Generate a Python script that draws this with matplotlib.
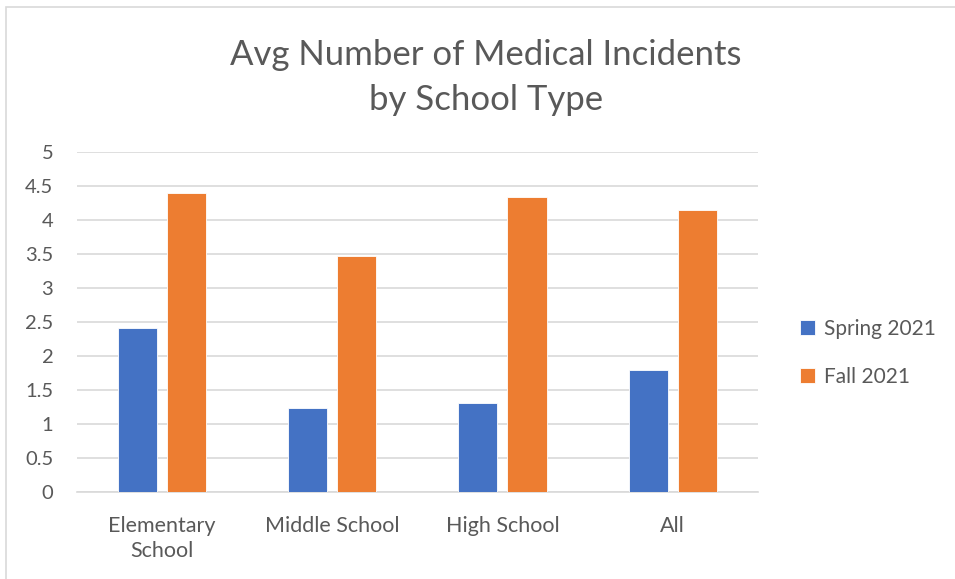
import numpy as np
import matplotlib.pyplot as plt
from matplotlib.patches import Rectangle

# Average medical incidents per school type
categories = ['Elementary\nSchool', 'Middle School', 'High School', 'All']
spring_2021 = [2.42, 1.24, 1.31, 1.80]
fall_2021 = [4.40, 3.47, 4.34, 4.15]
series_names = ['Spring 2021', 'Fall 2021']

blue = '#4472C4'
orange = '#ED7D31'
text_gray = '#595959'

plt.rcParams['font.family'] = ['Lato', 'DejaVu Sans']

fig = plt.figure(figsize=(9.55, 5.79), dpi=100)
ax = fig.add_axes([0.0806, 0.150, 0.7128, 0.5875])

x = np.arange(len(categories))
width = 0.23
offset = 0.144
ax.bar(x - offset, spring_2021, width, color=blue, label=series_names[0],
       edgecolor='white', linewidth=0.6, zorder=3)
ax.bar(x + offset, fall_2021, width, color=orange, label=series_names[1],
       edgecolor='white', linewidth=0.6, zorder=3)

ax.set_xlim(-0.5, len(categories) - 0.5)
ax.set_ylim(0, 5)
ax.set_yticks(np.arange(0, 5.01, 0.5))
ax.set_yticklabels(['0', '0.5', '1', '1.5', '2', '2.5', '3', '3.5', '4', '4.5', '5'])
ax.set_xticks(x)
ax.set_xticklabels(categories, linespacing=1.35)
ax.tick_params(axis='both', length=0, colors=text_gray)
ax.tick_params(axis='y', pad=17, labelsize=14.5)
ax.tick_params(axis='x', pad=17, labelsize=15.5)
ax.grid(axis='y', color='#D9D9D9', linewidth=1.2, zorder=0)
for side in ['top', 'right', 'left']:
    ax.spines[side].set_visible(False)
ax.spines['bottom'].set_color('#D9D9D9')
ax.spines['bottom'].set_linewidth(1.2)

fig.text(0.509, 0.866, 'Avg Number of Medical Incidents\nby School Type',
         ha='center', va='center', fontsize=25, color=text_gray, linespacing=1.5)

ax.legend(loc='center left', bbox_to_anchor=(1.035, 0.41), frameon=False,
          fontsize=15, labelcolor=text_gray, handlelength=0.7,
          handleheight=0.7, handletextpad=0.45, labelspacing=1.35)

# light outer border of the chart area
fig.patches.append(Rectangle((0.006, -0.05), 1.2, 1.038, transform=fig.transFigure,
                             fill=False, edgecolor='#D9D9D9', linewidth=1.2))

fig.savefig('out.png', dpi=100)
